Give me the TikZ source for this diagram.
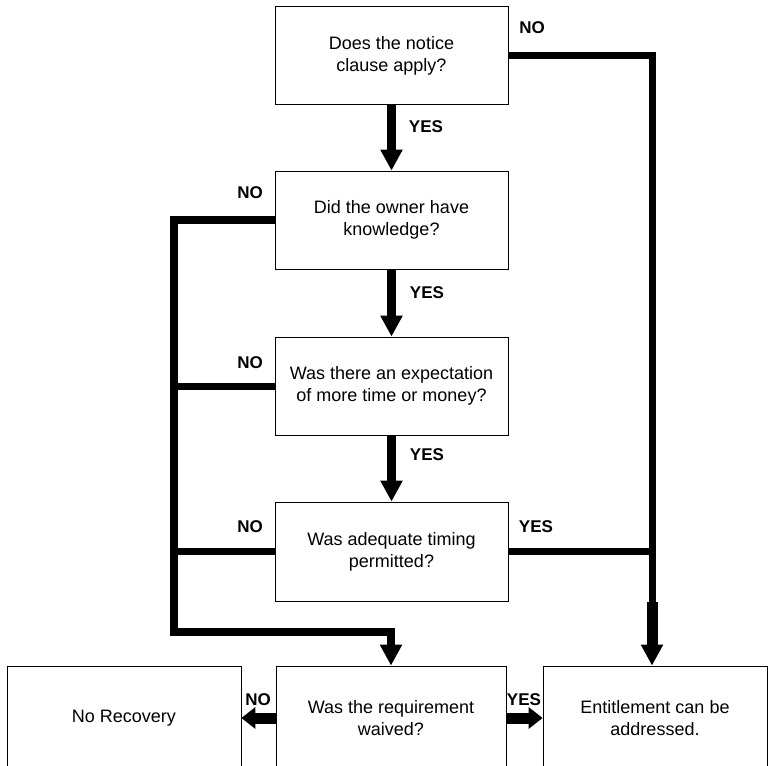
\documentclass[tikz,border=0pt]{standalone}
\usepackage{fontspec}
\setmainfont{Liberation Sans}
\usetikzlibrary{arrows.meta,positioning}
\tikzset{
  qbox/.style={draw,line width=.8pt,minimum width=233pt,minimum height=98pt,
              inner sep=0pt,align=center,font=\fontsize{18}{22}\selectfont},
  endbox/.style={qbox,minimum height=104pt},
  lbl/.style={inner sep=0pt,font=\fontsize{17}{20}\selectfont\bfseries},
  bus/.style={line width=7pt},
  flow/.style={line width=8.5pt,-{Triangle[length=21pt,width=21pt]}},
  sideflow/.style={line width=11pt,-{Triangle[length=14pt,width=21pt]}},
}

\begin{document}
\begin{tikzpicture}[x=1pt,y=-1pt]
  \useasboundingbox (0,0) rectangle (769,766);
  % question boxes
  \node[qbox] (q1) at (391.5,55.5) {Does the notice\\clause apply?};
  \node[qbox] (q2) at (391.5,220) {Did the owner have\\knowledge?};
  \node[qbox] (q3) at (391.5,386) {Was there an expectation\\of more time or money?};
  \node[qbox,minimum height=99pt] (q4) at (391.5,551.5) {Was adequate timing\\permitted?};
  \node[endbox,minimum width=230pt] (q5) at (391,718) {Was the requirement\\waived?};
  \node[endbox,minimum width=234pt] (norec) at (124,718) {No Recovery};
  \node[endbox,minimum width=224pt] (entitle) at (655,718) {Entitlement can be\\addressed.};
  % bus corners
  \coordinate (lb) at (174,632);
  \coordinate (rb) at (652,602);
  % yes chain
  \draw[flow] (q1) -- (q2);
  \draw[flow] (q2) -- (q3);
  \draw[flow] (q3) -- (q4);
  % no side
  \draw[flow,line width=7.5pt] (q2.west) -| (lb) -| (q5.north);
  \draw[bus] (q3.west) -- (q3.west -| lb);
  \draw[bus] (q4.west) -- (q4.west -| lb);
  % entitlement side
  \draw[bus] (q1.east) -| (rb);
  \draw[bus] (q4.east) -- (q4.east -| rb);
  \draw[flow,line width=11pt] (rb) -- (rb |- entitle.north);
  % last question
  \draw[sideflow] (q5.west) -- (norec.east);
  \draw[sideflow] (q5.east) -- (entitle.west);
  % labels
  \node[lbl] (n1) at (532,28) {NO};
  \node[lbl] (y1) at (426,127) {YES};
  \node[lbl] (n2) at (250,193) {NO};
  \node[lbl] (y2) at (427,293) {YES};
  \node[lbl] (n3) at (250,363) {NO};
  \node[lbl] (y3) at (427,455) {YES};
  \node[lbl] (n4) at (250,527) {NO};
  \node[lbl] (y4) at (536,527) {YES};
  \node[lbl] (n5) at (258,700) {NO};
  \node[lbl] (y5) at (524,700) {YES};
\end{tikzpicture}
\end{document}
